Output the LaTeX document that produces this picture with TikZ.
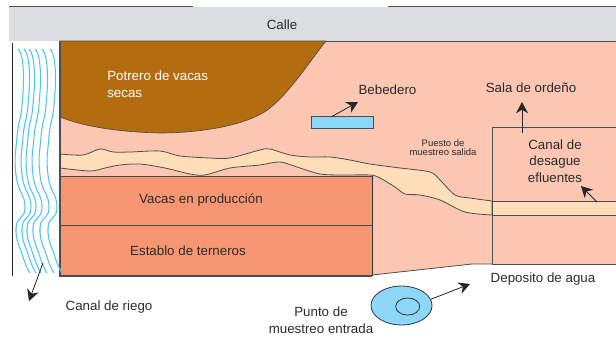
\documentclass[tikz,border=0pt]{standalone}
\usepackage{fontspec}
\setmainfont{Liberation Sans}
\usetikzlibrary{arrows.meta,shapes.geometric}
\usetikzlibrary{positioning}
\definecolor{calleGray}{HTML}{DCDDDF}
\definecolor{lineGray}{HTML}{4D4D4F}
\definecolor{pinkBg}{HTML}{FCC7B2}
\definecolor{brownLot}{HTML}{B46C10}
\definecolor{salmonLot}{HTML}{F79673}
\definecolor{creamCanal}{HTML}{FEDEB8}
\definecolor{skyWater}{HTML}{8DD8F8}
\definecolor{waveBlue}{HTML}{4CC6F2}
\definecolor{textGray}{HTML}{2B2B2B}
\tikzset{
	lbl/.style={inner sep=0pt,align=center,text=textGray,font=\fontsize{10}{12.4}\selectfont},
	lblsmall/.style={lbl,font=\fontsize{7.1}{6.9}\selectfont},
	edgeline/.style={draw=lineGray,line width=0.6pt},
	thickedge/.style={draw=lineGray,line width=1.1pt},
	pointer/.style={-{Stealth[length=8.5pt,width=9pt]},draw=black!85,line width=0.6pt},
}
\begin{document}
\begin{tikzpicture}[x=0.75pt,y=-0.75pt]
	\useasboundingbox (0,0) rectangle (616,336);
	% calle
	\fill[calleGray] (9,7) rectangle (616,41);
	\draw[thickedge] (9,6.5)--(193,6.5);
	\draw[thickedge] (388,6.5)--(616,6.5);
	% fondo
	\fill[pinkBg] (60,41)--(616,41)--(616,264)--(472,264)--(372,275)--(60,276)--cycle;
	\draw[edgeline] (60,41)--(616,41);
	\draw[edgeline] (372,275)--(472,264)--(492,264);
	% potrero
	\filldraw[fill=brownLot,draw=lineGray,line width=0.5pt] (60,41)--(326,41)
		.. controls (312,58) and (292,90) .. (270,108)
		.. controls (245,128) and (190,133) .. (160,133)
		.. controls (120,132) and (85,127) .. (60,117)--cycle;
	% canal de efluentes
	\filldraw[fill=creamCanal,edgeline] plot[smooth,tension=0.5] coordinates {(60,154) (83,155) (100,149) (113,152) (130,152) (160,151) (180,156) (210,158) (230,158) (260,150) (270,149) (290,155) (310,157) (330,157) (350,160) (370,164) (400,168) (430,172) (440,180) (455,195) (470,198) (492,201)}
		-- plot[smooth,tension=0.5] coordinates {(492,215) (465,212) (440,200) (420,195) (405,194) (395,187) (380,178) (370,175) (340,175) (320,174) (300,168) (280,162) (260,165) (230,168) (205,175) (190,174) (165,168) (140,164) (120,165) (105,168) (90,171) (60,168)} -- cycle;
	% establos
	\fill[salmonLot] (60,176) rectangle (372,276);
	\draw[edgeline] (60,176)--(372,176);
	\draw[edgeline] (60,225.3)--(372,225.3);
	\draw[draw=black!80,line width=0.7pt] (372.5,176)--(372.5,276);
	\draw[thickedge] (60,41)--(60,276)--(372,276);
	% deposito
	\fill[creamCanal] (492,201) rectangle (616,215);
	\draw[edgeline] (492,201)--(616,201);
	\draw[edgeline] (492,215)--(616,215);
	\draw[edgeline] (616,127)--(492,127)--(492,264)--(616,264);
	% riego
	\draw[draw=black!85,line width=0.7pt] (12,43)--(12,276);
	\foreach \dx in {0,6,11,17,24,32}{
		\draw[waveBlue,line width=0.8pt,xshift=\dx*0.75pt] plot[smooth,tension=0.9] coordinates {(18,49) (23,66) (22,105) (17,137) (16,175) (25,207) (16,228) (23,257) (30,273)};
	}
	% bebedero
	\node[draw=lineGray,fill=skyWater,line width=0.7pt,minimum width=46pt,minimum height=9.6pt,inner sep=0pt] (bebederoBox) at (342.5,122.5) {};
	% punto de muestreo
	\node[draw=black!80,fill=skyWater,ellipse,line width=0.6pt,minimum width=45.8pt,minimum height=29.2pt,inner sep=0pt] (puntoOuter) at (401.5,305.5) {};
	\node[draw=black!80,ellipse,line width=0.6pt,minimum width=18pt,minimum height=12.8pt,inner sep=0pt] (puntoInner) at (407.7,306.5) {};
	% textos
	\node[lbl] (calle) at (282,24.5) {Calle};
	\node[lbl,text=white,anchor=west,align=left] (potrero) at (107,84) {Potrero de vacas\\secas};
	\node[lbl] (bebedero) at (387.5,89.5) {Bebedero};
	\node[lbl] (sala) at (531,87.5) {Sala de ordeño};
	\node[lblsmall] (puesto) at (443,147.5) {Puesto de\\muestreo salida};
	\node[lbl] (desague) at (555,161) {Canal de\\desague\\efluentes};
	\node[lbl] (vacas) at (201,200) {Vacas en producción};
	\node[lbl] (terneros) at (188,250.5) {Establo de terneros};
	\node[lbl] (riego) at (109,307.5) {Canal de riego};
	\node[lbl] (puntoLbl) at (321,320) {Punto de\\muestreo entrada};
	\node[lbl] (deposito) at (543,279.5) {Deposito de agua};
	% flechas
	\coordinate (bebFrom) at (331,117);
	\coordinate (bebTo) at (358,102);
	\coordinate (salaFrom) at (522,133);
	\coordinate (salaTo) at (522,102);
	\coordinate (eflFrom) at (597,202);
	\coordinate (eflTo) at (581,186);
	\coordinate (riegoFrom) at (43,263);
	\coordinate (riegoTo) at (29,301);
	\coordinate (puntoTo) at (470,284);
	\draw[pointer] (bebFrom)--(bebTo);
	\draw[pointer] (salaFrom)--(salaTo);
	\draw[pointer] (eflFrom)--(eflTo);
	\draw[pointer] (riegoFrom)--(riegoTo);
	\draw[pointer] (puntoOuter.12)--(puntoTo);
\end{tikzpicture}
\end{document}
